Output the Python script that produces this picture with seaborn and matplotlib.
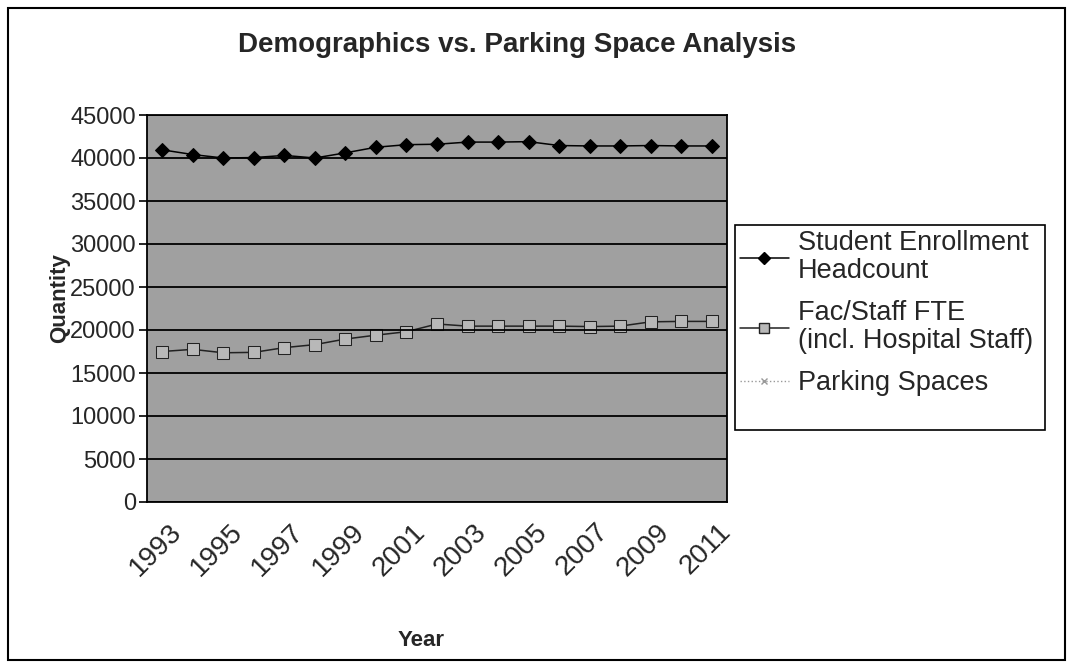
import matplotlib
matplotlib.use("Agg")
import matplotlib.pyplot as plt
import matplotlib.transforms as mtransforms
from matplotlib.lines import Line2D
from matplotlib.patches import Rectangle
import seaborn as sns
import pandas as pd
import numpy as np

years = list(range(1993, 2012))
student_enrollment = [40950, 40400, 40000, 40050, 40300, 40000, 40600, 41250, 41550,
                      41600, 41850, 41850, 41900, 41450, 41400, 41400, 41450, 41400, 41400]
fac_staff_fte = [17500, 17750, 17350, 17400, 17950, 18300, 18950, 19400, 19800,
                 20700, 20450, 20450, 20450, 20450, 20400, 20450, 20950, 21000, 21000]
tick_years = [str(y) for y in range(1993, 2012, 2)]
y_ticks = list(range(0, 45001, 5000))

sns.set_theme(style="white")
plt.rcParams['font.family'] = ['Liberation Sans', 'DejaVu Sans']

fig = plt.figure(figsize=(10.76, 6.65), dpi=100)
ax = fig.add_axes([147/1076, 1-502/665, (727-147)/1076, (502-115)/665])
ax.set_facecolor('#a0a0a0')

idx = list(range(len(years)))
df = pd.DataFrame({'idx': idx, 'student': student_enrollment, 'fac': fac_staff_fte})

sns.lineplot(data=df, x='idx', y='student', ax=ax, color='black', linewidth=1.1,
             marker='D', markersize=7, markeredgecolor='black', markerfacecolor='black')
sns.lineplot(data=df, x='idx', y='fac', ax=ax, color='#222222', linewidth=1.1,
             marker='s', markersize=8, markeredgecolor='#222222', markerfacecolor='#b8b8b8')

ax.set_xlim(-0.5, len(years) - 0.5)
ax.set_ylim(0, 45000)
ax.set_yticks(y_ticks)
ax.set_yticklabels([str(v) for v in y_ticks], fontsize=17)
ax.yaxis.grid(True, color='black', linewidth=1.3)
ax.set_axisbelow(False)

ax.set_xticks(list(range(0, len(years), 2)))
ax.set_xticklabels(tick_years, fontsize=20, rotation=45, ha='right', rotation_mode='anchor')
ax.set_xticks(np.arange(-0.5, len(years), 1.0), minor=True)
ax.tick_params(axis='x', which='major', length=0, pad=12)
ax.tick_params(axis='x', which='minor', length=6, width=1.2, color='black', direction='out')
ax.tick_params(axis='y', which='major', length=6, width=1.2, color='black', direction='out',
               left=True, pad=2)
offset = mtransforms.ScaledTranslation(6/100, 0, fig.dpi_scale_trans)
for lbl in ax.get_xticklabels():
    lbl.set_transform(lbl.get_transform() + offset)

for s in ax.spines.values():
    s.set_color('black')
    s.set_linewidth(1.3)
ax.set_xlabel('')
ax.set_ylabel('')

fig.text(517/1076, 1-45/665, 'Demographics vs. Parking Space Analysis', fontsize=20,
         fontweight='bold', ha='center', va='center')
fig.text(421/1076, 1-640/665, 'Year', fontsize=16, fontweight='bold', ha='center', va='center')
fig.text(60/1076, 1-298/665, 'Quantity', fontsize=16, fontweight='bold', ha='center',
         va='center', rotation=90)

handles = [
    Line2D([], [], color='black', linewidth=1.1, marker='D', markersize=6,
           markerfacecolor='black', markeredgecolor='black'),
    Line2D([], [], color='#222222', linewidth=1.1, marker='s', markersize=7,
           markerfacecolor='#b8b8b8', markeredgecolor='#222222'),
    Line2D([], [], color='#999999', linewidth=1.0, linestyle=':', marker='x', markersize=4,
           markeredgecolor='#999999'),
]
labels = ['Student Enrollment\nHeadcount', 'Fac/Staff FTE\n(incl. Hospital Staff)', 'Parking Spaces']
leg = fig.legend(handles, labels, loc='upper left', bbox_to_anchor=(740/1076, 1-230/665),
                 fontsize=19.5, frameon=False,
                 handlelength=1.8, handletextpad=0.35, labelspacing=0.6, borderpad=0.0,
                 borderaxespad=0)
for t in leg.get_texts():
    t.set_linespacing(1.1)

fig.patches.append(Rectangle((735/1076, 1-430/665), (1045-735)/1076, (430-225)/665,
                             transform=fig.transFigure, fill=False, edgecolor='black',
                             linewidth=1.2))

fig.patches.append(Rectangle((8/1076, 1-660/665), (1065-8)/1076, (660-8)/665,
                             transform=fig.transFigure, fill=False, edgecolor='black',
                             linewidth=1.5))

fig.savefig('out.png', dpi=100, facecolor='white')
